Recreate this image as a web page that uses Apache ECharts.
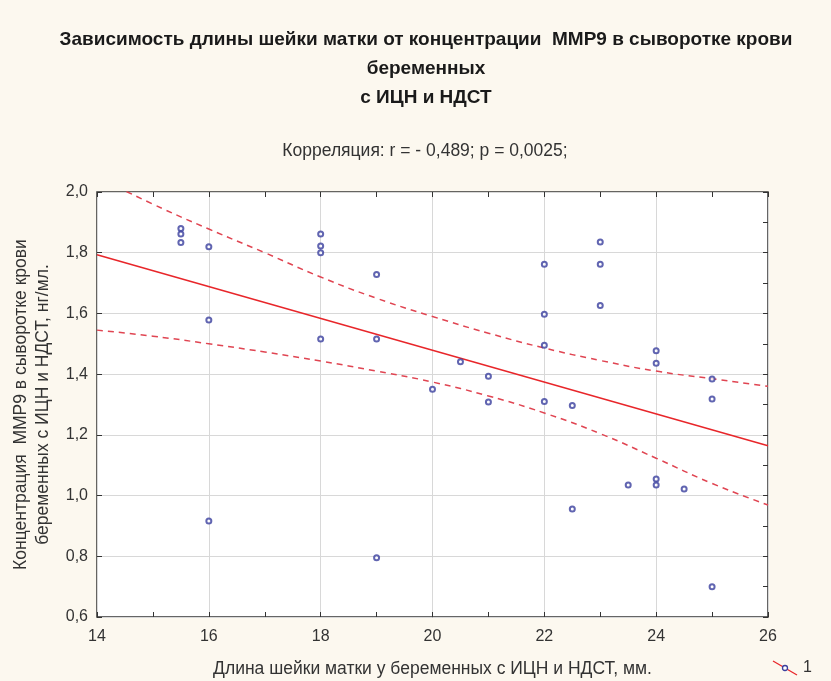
<!DOCTYPE html>
<html>
<head>
<meta charset="utf-8">
<title>ММР9 и длина шейки матки</title>
<script src="https://cdn.jsdelivr.net/npm/echarts@6/dist/echarts.min.js"></script>
<style>
  html, body { margin: 0; padding: 0; background: #fcf8ef; }
  #chart { width: 831px; height: 681px; }
</style>
</head>
<body>
<div id="chart"></div>
<script>
// Данные (длина шейки матки, мм / ММР9, нг/мл)
var lenX = [15.5, 15.5, 15.5, 16, 16, 16, 18, 18, 18, 18, 19, 19, 19, 20, 20.5, 21, 21,
  22, 22, 22, 22, 22.5, 22.5, 23, 23, 23, 23.5, 24, 24, 24, 24, 24.5, 25, 25, 25];
var mmp9 = [1.88, 1.862, 1.834, 1.82, 1.578, 0.916, 1.862, 1.822, 1.80, 1.516, 1.728, 1.516, 0.795,
  1.35, 1.441, 1.393, 1.308, 1.762, 1.597, 1.495, 1.31, 1.297, 0.956, 1.835, 1.762, 1.626, 1.035,
  1.477, 1.436, 1.055, 1.035, 1.022, 1.384, 1.318, 0.70];

// Линия регрессии
var fitX = [14, 26];
var fitY = [1.793, 1.164];

// 95% доверительный интервал
var bandX = [14, 15, 16, 17, 18, 19, 20, 21, 22, 23, 24, 25, 26];
var upperY = [2.05, 1.96, 1.878, 1.80, 1.72, 1.65, 1.59, 1.535, 1.486, 1.445, 1.41, 1.385, 1.36];
var lowerY = [1.545, 1.525, 1.50, 1.473, 1.443, 1.41, 1.374, 1.328, 1.272, 1.204, 1.123, 1.04, 0.969];

var xTicks = [14, 16, 18, 20, 22, 24, 26];
var yTicks = [0.6, 0.8, 1.0, 1.2, 1.4, 1.6, 1.8, 2.0];

function pairs(xs, ys) {
  return xs.map(function(x, i) { return [x, ys[i]]; });
}

var chart = echarts.init(document.getElementById('chart'));
var sans = '"Liberation Sans", Arial, sans-serif';
var red = '#e8262a';
var blue = '#3a3f9e';

chart.setOption({
  backgroundColor: '#fcf8ef',
  animation: false,
  title: [{
    text: 'Зависимость длины шейки матки от концентрации  ММР9 в сыворотке крови\nбеременных\nс ИЦН и НДСТ',
    left: 421,
    textAlign: 'center',
    top: 20,
    textStyle: {
      fontFamily: sans,
      fontWeight: 'bold',
      fontSize: 19,
      lineHeight: 29,
      color: '#1a1a1a'
    }
  }, {
    text: 'Корреляция: r = - 0,489; p = 0,0025;',
    left: 420,
    textAlign: 'center',
    top: 137,
    textStyle: {
      fontFamily: sans,
      fontWeight: 'normal',
      fontSize: 17.5,
      color: '#333'
    }
  }],
  grid: {
    left: 97,
    right: 63,
    top: 192,
    bottom: 64,
    outerBoundsMode: 'none',
    show: true,
    backgroundColor: '#fff',
    borderColor: '#333',
    borderWidth: 1.5
  },
  xAxis: [{
    type: 'value',
    min: xTicks[0],
    max: xTicks[xTicks.length - 1],
    interval: 2,
    name: 'Длина шейки матки у беременных с ИЦН и НДСТ, мм.',
    nameLocation: 'middle',
    nameGap: 43,
    nameTextStyle: { fontFamily: sans, fontSize: 17.5, color: '#333' },
    axisLine: { show: false },
    axisTick: { inside: true, length: 5, lineStyle: { color: '#333' } },
    minorTick: { show: true, splitNumber: 2, length: 5, lineStyle: { color: '#333' } },
    axisLabel: { fontFamily: sans, fontSize: 16, color: '#333', margin: 12 },
    splitLine: { show: true, lineStyle: { color: '#d8d8d8' } }
  }, {
    type: 'value',
    position: 'top',
    min: xTicks[0],
    max: xTicks[xTicks.length - 1],
    interval: 2,
    axisLine: { show: false },
    axisTick: { inside: true, length: 5, lineStyle: { color: '#333' } },
    minorTick: { show: true, splitNumber: 2, length: 5, lineStyle: { color: '#333' } },
    axisLabel: { show: false },
    splitLine: { show: false }
  }],
  yAxis: [{
    type: 'value',
    min: yTicks[0],
    max: yTicks[yTicks.length - 1],
    interval: 0.2,
    name: 'Концентрация  ММР9 в сыворотке крови\nбеременных с ИЦН и НДСТ, нг/мл.',
    nameLocation: 'middle',
    nameGap: 43,
    nameTextStyle: { fontFamily: sans, fontSize: 17.5, color: '#333', lineHeight: 22 },
    axisLine: { show: false },
    axisTick: { inside: true, length: 5, lineStyle: { color: '#333' } },
    axisLabel: {
      fontFamily: sans,
      fontSize: 16,
      color: '#333',
      margin: 9,
      formatter: function(v) { return v.toFixed(1).replace('.', ','); }
    },
    splitLine: { show: true, lineStyle: { color: '#d8d8d8' } }
  }, {
    type: 'value',
    position: 'right',
    min: yTicks[0],
    max: yTicks[yTicks.length - 1],
    interval: 0.2,
    axisLine: { show: false },
    axisTick: { inside: true, length: 5, lineStyle: { color: '#333' } },
    minorTick: { show: true, splitNumber: 2, length: 5, lineStyle: { color: '#333' } },
    axisLabel: { show: false },
    splitLine: { show: false }
  }],
  series: [{
    name: 'upper',
    type: 'line',
    smooth: true,
    showSymbol: false,
    clip: true,
    data: pairs(bandX, upperY),
    lineStyle: { color: '#e04552', width: 1.5, type: [6, 5] },
    z: 2
  }, {
    name: 'lower',
    type: 'line',
    smooth: true,
    showSymbol: false,
    clip: true,
    data: pairs(bandX, lowerY),
    lineStyle: { color: '#e04552', width: 1.5, type: [6, 5] },
    z: 2
  }, {
    name: 'fit',
    type: 'line',
    showSymbol: false,
    data: pairs(fitX, fitY),
    lineStyle: { color: red, width: 1.5 },
    z: 3
  }, {
    name: '1',
    type: 'scatter',
    symbol: 'emptyCircle',
    symbolSize: 5,
    data: pairs(lenX, mmp9),
    itemStyle: { color: blue, borderColor: blue, borderWidth: 1.2 },
    z: 4
  }],
  // Легенда в правом нижнем углу
  graphic: [{
    type: 'line',
    shape: { x1: 773, y1: 661, x2: 797, y2: 675 },
    style: { stroke: red, lineWidth: 1.3 }
  }, {
    type: 'circle',
    shape: { cx: 785, cy: 668, r: 2.5 },
    style: { fill: '#fff', stroke: blue, lineWidth: 1.3 }
  }, {
    type: 'text',
    left: 803,
    top: 660,
    style: { text: '1', fontFamily: sans, fontSize: 16, fill: '#333' }
  }]
});
</script>
</body>
</html>
